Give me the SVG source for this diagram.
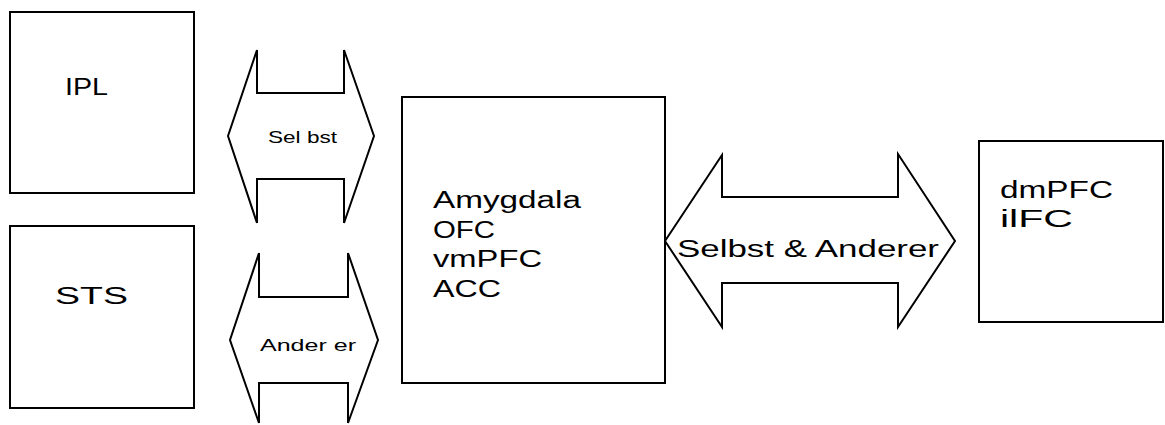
<svg xmlns="http://www.w3.org/2000/svg" width="1165" height="425" viewBox="0 0 1165 425">
<style>
.box{fill:#fff;stroke:#000;stroke-width:2}
.arr{fill:none;stroke:#000;stroke-width:2;stroke-linejoin:miter}
.big{fill:#fff;stroke:#000;stroke-width:2}
.t{font-family:"Liberation Sans",Arial,sans-serif;font-size:23.5px;fill:#000}
.s{font-family:"Liberation Sans",Arial,sans-serif;font-size:16.5px;fill:#000}
</style>
<rect width="1165" height="425" fill="#fff"/>
<g id="IPL">
<rect class="box" x="10" y="12" width="184" height="181"/>
<text class="t" x="65" y="95" textLength="43" lengthAdjust="spacingAndGlyphs">IPL</text>
</g>
<g id="STS">
<rect class="box" x="10" y="226" width="184" height="182"/>
<text class="t" x="55" y="304" font-size="24" textLength="73" lengthAdjust="spacingAndGlyphs">STS</text>
</g>
<g id="center">
<rect class="box" x="402" y="97" width="263" height="286"/>
<text class="t" x="433" y="208" textLength="148" lengthAdjust="spacingAndGlyphs">Amygdala</text>
<text class="t" x="433" y="238" textLength="62" lengthAdjust="spacingAndGlyphs">OFC</text>
<text class="t" x="433" y="267" textLength="109" lengthAdjust="spacingAndGlyphs">vmPFC</text>
<text class="t" x="433" y="297" textLength="68" lengthAdjust="spacingAndGlyphs">ACC</text>
</g>
<g id="right">
<rect class="box" x="979" y="141" width="184" height="181"/>
<text class="t" x="1000" y="198" textLength="113" lengthAdjust="spacingAndGlyphs">dmPFC</text>
<text class="t" x="1000" y="227" textLength="73" lengthAdjust="spacingAndGlyphs">ilFC</text>
</g>
<g id="connectors">
<g id="selbst">
<path class="arr" d="M257,50 L257,93 L344,93 L344,50 M257,50 L228,136 L257,223 M344,50 L374,136 L344,223 M257,223 L257,179 L344,179 L344,223"/>
<text class="s" x="268" y="143" textLength="69" lengthAdjust="spacingAndGlyphs">Sel bst</text>
</g>
<g id="anderer">
<path class="arr" d="M259,253 L259,297 L348,297 L348,253 M259,253 L230,340 L259,423 M348,253 L378,340 L348,423 M259,423 L259,383 L348,383 L348,423"/>
<text class="s" x="260" y="351" textLength="96" lengthAdjust="spacingAndGlyphs">Ander er</text>
</g>
<g id="selbst-anderer">
<path class="big" d="M665,241 L722,155 L722,197 L898,197 L898,154 L955,241 L898,327 L898,283 L722,283 L722,327 Z"/>
<text class="t" x="677" y="257" textLength="262" lengthAdjust="spacingAndGlyphs">Selbst &amp; Anderer</text>
</g>
</g>
</svg>
